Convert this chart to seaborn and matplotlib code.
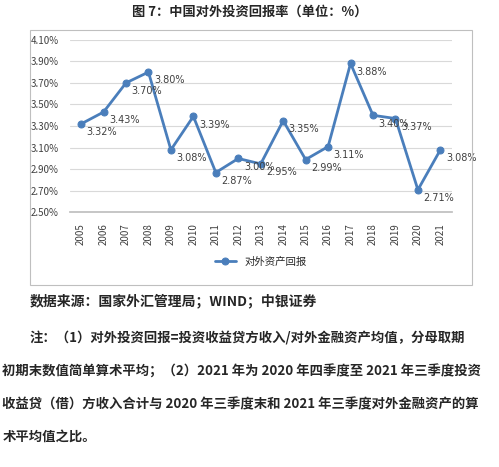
import matplotlib.pyplot as plt
import seaborn as sns
import pandas as pd
from matplotlib.patches import Rectangle
from matplotlib.ticker import FuncFormatter

years = [str(y) for y in range(2005, 2022)]
returns = [3.32, 3.43, 3.70, 3.80, 3.08, 3.39, 2.87, 3.00, 2.95,
           3.35, 2.99, 3.11, 3.88, 3.40, 3.37, 2.71, 3.08]
series_name = '对外资产回报'
title = '图 7：中国对外投资回报率（单位：%）'
source = '数据来源：国家外汇管理局；WIND；中银证券'
notes = [
    '注：（1）对外投资回报=投资收益贷方收入/对外金融资产均值，分母取期',
    '初期末数值简单算术平均；（2）2021 年为 2020 年四季度至 2021 年三季度投资',
    '收益贷（借）方收入合计与 2020 年三季度末和 2021 年三季度对外金融资产的算',
    '术平均值之比。',
]

sns.set_theme(style='white')
plt.rcParams['font.family'] = ['Noto Sans CJK SC', 'DejaVu Sans']

df = pd.DataFrame({'year': years, 'value': returns})
blue = '#4a7ebb'

fig = plt.figure(figsize=(4.99, 4.67), dpi=100)
fig.patches.append(Rectangle((0.06, 0.39), 0.885, 0.545, transform=fig.transFigure,
                             fill=False, edgecolor='#bfbfbf', linewidth=0.8))
ax = fig.add_axes([0.14, 0.545, 0.765, 0.37])
sns.lineplot(data=df, x='year', y='value', ax=ax, color=blue, marker='o',
             markersize=5, linewidth=2, markeredgecolor=blue, label=series_name,
             sort=False)
for i, v in enumerate(returns):
    ax.annotate(f'{v:.2f}%', (i, v), xytext=(4, -6), textcoords='offset points',
                fontsize=7, color='#404040', va='center', ha='left',
                family=['DejaVu Sans'])
ax.set_ylim(2.5, 4.1)
ax.set_yticks([2.5 + 0.2 * k for k in range(9)])
ax.yaxis.set_major_formatter(FuncFormatter(lambda v, p: f'{v:.2f}%'))
ax.set_xlim(-0.5, len(years) - 0.5)
ax.tick_params(axis='x', rotation=90, labelsize=7, colors='#404040', pad=2)
ax.tick_params(axis='y', labelsize=7, colors='#404040', pad=2)
ax.grid(axis='y', color='#d9d9d9', linewidth=0.8)
for s in ['top', 'right', 'left']:
    ax.spines[s].set_visible(False)
ax.spines['bottom'].set_color('#bfbfbf')
ax.set_xlabel('')
ax.set_ylabel('')
ax.legend(loc='upper center', bbox_to_anchor=(0.5, -0.2), frameon=False,
          fontsize=7.5)

fig.text(0.5, 0.975, title, ha='center', va='center', fontsize=9.5, fontweight='bold')
fig.text(0.06, 0.355, source, ha='left', va='center', fontsize=10, fontweight='bold')
for k, line in enumerate(notes):
    x = 0.06 if k == 0 else 0.005
    fig.text(x, 0.275 - k * 0.07, line, ha='left', va='center', fontsize=9.6,
             fontweight='bold')

fig.savefig('out.png', dpi=100)
